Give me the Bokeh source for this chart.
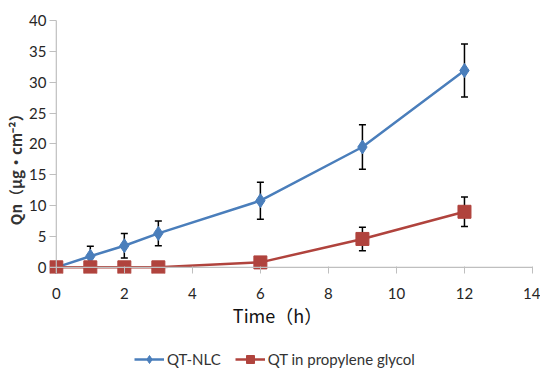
from bokeh.plotting import figure
from bokeh.layouts import column
from bokeh.models import ColumnDataSource, Whisker, TeeHead, Legend, LegendItem, FixedTicker, Range1d, Span
from bokeh.embed import file_html
from bokeh.resources import INLINE

hours = [0, 1, 2, 3, 6, 9, 12]
nlc = [0, 1.8, 3.5, 5.5, 10.8, 19.5, 31.9]
nlc_err = [0, 1.6, 2.0, 2.0, 3.0, 3.6, 4.3]
pg = [0, 0, 0, 0, 0.8, 4.6, 9.0]
pg_err = [0, 0, 0, 0, 0.2, 1.9, 2.4]
x_ticks = [0, 2, 4, 6, 8, 10, 12, 14]
y_ticks = [0, 5, 10, 15, 20, 25, 30, 35, 40]
series_names = ["QT-NLC", "QT in propylene glycol"]

BLUE = "#4a7ebb"
RED = "#b0433d"
GREY = "#bfbfbf"
FONT = "Lato"

src_n = ColumnDataSource(dict(x=hours, y=nlc,
                              lo=[v - e for v, e in zip(nlc, nlc_err)],
                              hi=[v + e for v, e in zip(nlc, nlc_err)]))
src_p = ColumnDataSource(dict(x=hours, y=pg,
                              lo=[v - e for v, e in zip(pg, pg_err)],
                              hi=[v + e for v, e in zip(pg, pg_err)]))

p = figure(width=540, height=330, output_backend="svg", toolbar_location=None,
           x_range=Range1d(-0.2, 14), y_range=Range1d(-1, 40),
           min_border_left=49, min_border_right=8, min_border_top=20, min_border_bottom=56)
p.outline_line_color = None
p.xgrid.visible = False
p.ygrid.visible = False

p.yaxis.ticker = FixedTicker(ticks=y_ticks)
p.xaxis.ticker = FixedTicker(ticks=x_ticks)
for ax in (p.xaxis[0], p.yaxis[0]):
    ax.axis_line_color = None
    ax.major_tick_line_color = GREY
    ax.minor_tick_line_color = None
    ax.major_label_text_font = FONT
    ax.major_label_text_font_size = "15px"
    ax.major_label_text_color = "#262626"
p.yaxis.major_tick_in = 7
p.yaxis.major_tick_out = 0
p.yaxis.major_label_standoff = 3
p.xaxis.major_tick_in = 7
p.xaxis.major_tick_out = 0
p.xaxis.major_label_standoff = 14
p.add_layout(Span(location=0, dimension="width", line_color=GREY, line_width=1.2))
p.add_layout(Span(location=0, dimension="height", line_color=GREY, line_width=1.2))

p.xaxis.axis_label = "Time（h）　　"
p.xaxis.axis_label_text_font = "Noto Sans CJK SC"
p.xaxis.axis_label_text_font_style = "normal"
p.xaxis.axis_label_text_font_size = "18px"
p.xaxis.axis_label_text_color = "#111111"
p.xaxis.axis_label_standoff = 0
p.yaxis.axis_label = "Qn（μg·cm⁻²）　　　"
p.yaxis.axis_label_text_font = "Noto Sans CJK SC"
p.yaxis.axis_label_text_font_style = "bold"
p.yaxis.axis_label_text_font_size = "15px"
p.yaxis.axis_label_text_color = "#333333"
p.yaxis.axis_label_standoff = 0

for src in (src_n, src_p):
    w = Whisker(base="x", upper="hi", lower="lo", source=src, line_color="black", line_width=1.5,
                upper_head=TeeHead(size=7, line_color="black", line_width=1.5),
                lower_head=TeeHead(size=7, line_color="black", line_width=1.5))
    p.add_layout(w)

p.line("x", "y", source=src_n, line_color=BLUE, line_width=2.5)
p.scatter("x", "y", source=src_n, marker="diamond", size=14, fill_color=BLUE, line_color=BLUE)
p.line("x", "y", source=src_p, line_color=RED, line_width=2.5)
p.scatter("x", "y", source=src_p, marker="square", size=13, fill_color=RED, line_color=RED)

# legend strip below the chart (same series, ranges chosen so only the legend shows)
lg = figure(width=540, height=45, output_backend="svg", toolbar_location=None,
            x_range=Range1d(-200, -199), y_range=Range1d(-200, -199),
            x_axis_type=None, y_axis_type=None, min_border=0)
lg.outline_line_color = None
lg.xgrid.visible = False
lg.ygrid.visible = False
l1 = lg.line("x", "y", source=src_n, line_color=BLUE, line_width=2.5)
m1 = lg.scatter("x", "y", source=src_n, marker="diamond", size=11, fill_color=BLUE, line_color=BLUE)
l2 = lg.line("x", "y", source=src_p, line_color=RED, line_width=2.5)
m2 = lg.scatter("x", "y", source=src_p, marker="square", size=10, fill_color=RED, line_color=RED)
legend = Legend(items=[LegendItem(label=series_names[0], renderers=[l1, m1]),
                       LegendItem(label=series_names[1], renderers=[l2, m2])],
                orientation="horizontal", location=(85, 6),
                border_line_color=None, background_fill_alpha=0,
                label_text_font=FONT, label_text_font_size="15px",
                label_text_color="#333333", glyph_width=30, label_standoff=3,
                spacing=14, margin=0, padding=4)
lg.add_layout(legend)

layout = column(p, lg, spacing=0)
open("out.html", "w").write(file_html(layout, INLINE))
